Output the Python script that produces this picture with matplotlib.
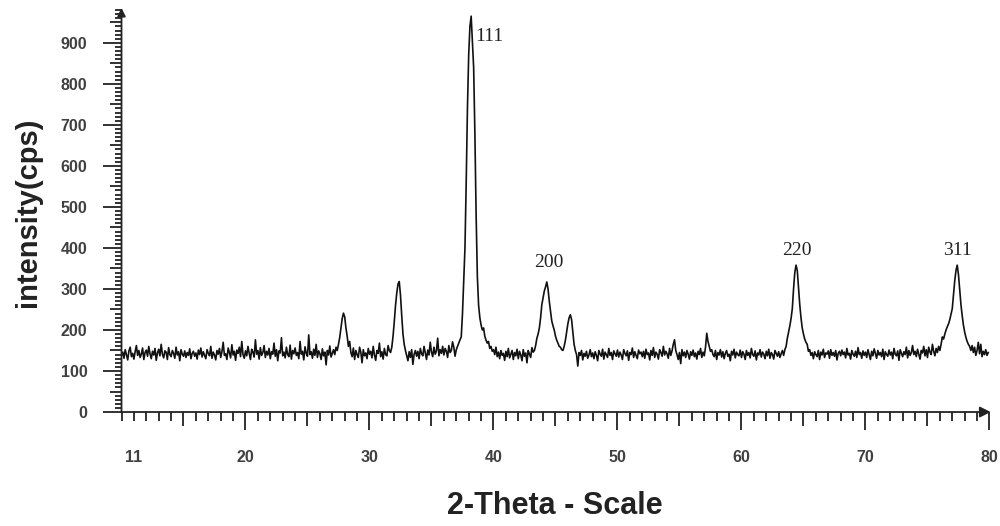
import numpy as np
import matplotlib
matplotlib.use('Agg')
import matplotlib.pyplot as plt
from matplotlib.ticker import FixedLocator, MultipleLocator

plt.rcParams['font.family'] = ['Liberation Sans', 'DejaVu Sans']

# scan: 2-theta from 10 deg in 0.1 deg steps, intensity
two_theta_start = 10.0
two_theta_step = 0.1
intensity = [
    138, 146, 131, 152, 140, 127, 149, 158, 135, 143, 129, 147, 162, 138, 150, 133, 141, 156, 128, 145,  # 10
    151, 136, 160, 142, 130, 148, 139, 155, 126, 144, 153, 137, 165, 141, 132, 149, 146, 128, 157, 140,  # 12
    135, 150, 143, 131, 158, 139, 147, 125, 152, 141, 136, 149, 133, 145, 138, 154, 130, 143, 148, 136,  # 14
    144, 129, 151, 140, 156, 134, 147, 138, 130, 152, 143, 137, 160, 131, 146, 139, 127, 150, 141, 155,  # 16
    133, 147, 170, 138, 142, 128, 156, 145, 132, 164, 139, 148, 126, 151, 143, 158, 135, 172, 140, 131,  # 18
    149, 137, 160, 143, 128, 153, 146, 134, 176, 141, 150, 129, 157, 138, 145, 162, 133, 148, 139, 155,  # 20
    130, 147, 141, 168, 136, 152, 125, 149, 144, 181, 137, 146, 132, 158, 140, 135, 163, 129, 150, 142,  # 22
    156, 138, 145, 130, 172, 141, 148, 127, 159, 143, 136, 188, 140, 147, 131, 153, 138, 165, 133, 149,  # 24
    142, 128, 154, 137, 146, 115, 150, 139, 161, 134, 143, 152, 140, 158, 150, 165, 182, 206, 228, 241,  # 26
    232, 205, 185, 160, 172, 145, 135, 156, 128, 150, 140, 133, 158, 146, 120, 152, 137, 144, 130, 155,  # 28
    141, 148, 132, 160, 139, 126, 150, 143, 168, 135, 147, 129, 155, 140, 137, 162, 150, 145, 158, 185,  # 30
    220, 260, 290, 312, 318, 285, 235, 190, 165, 150, 138, 125, 147, 133, 152, 116, 141, 150, 136, 148,  # 32
    130, 155, 142, 137, 160, 144, 128, 151, 139, 170, 146, 135, 158, 141, 149, 180, 137, 152, 143, 160,  # 34
    139, 155, 148, 133, 162, 145, 150, 171, 158, 136, 152, 160, 168, 176, 183, 240, 320, 400, 560, 740,  # 36
    870, 940, 965, 900, 840, 680, 480, 330, 260, 230, 212, 200, 205, 185, 175, 168, 172, 155, 160, 148,  # 38
    152, 140, 158, 135, 146, 130, 150, 138, 143, 126, 148, 135, 155, 132, 141, 150, 128, 145, 137, 153,  # 40
    130, 148, 139, 125, 152, 136, 144, 120, 150, 141, 133, 157, 146, 150, 162, 180, 190, 205, 230, 262,  # 42
    278, 295, 305, 317, 300, 270, 245, 222, 210, 200, 185, 175, 168, 160, 158, 152, 150, 160, 175, 195,  # 44
    215, 230, 237, 225, 195, 165, 150, 140, 112, 145, 138, 150, 127, 143, 136, 148, 131, 139, 152, 135,  # 46
    144, 130, 147, 138, 125, 150, 141, 136, 153, 129, 146, 140, 133, 155, 138, 145, 128, 149, 142, 136,  # 48
    151, 134, 146, 139, 128, 152, 143, 137, 149, 126, 145, 140, 156, 133, 147, 138, 130, 151, 142, 146,  # 50
    135, 148, 131, 153, 140, 144, 127, 150, 138, 157, 133, 146, 141, 129, 152, 145, 136, 160, 139, 148,  # 52
    142, 131, 155, 138, 149, 165, 176, 150, 140, 128, 145, 118, 152, 137, 146, 133, 150, 141, 129, 147,  # 54
    138, 151, 135, 144, 129, 148, 140, 155, 133, 146, 137, 158, 192, 172, 160, 148, 152, 140, 135, 150,  # 56
    128, 145, 139, 152, 134, 147, 130, 143, 150, 136, 141, 125, 148, 139, 153, 132, 146, 140, 137, 151,  # 58
    133, 147, 141, 128, 150, 138, 145, 132, 155, 140, 136, 149, 127, 144, 139, 152, 134, 146, 141, 130,  # 60
    148, 137, 153, 131, 145, 140, 129, 150, 143, 136, 147, 133, 142, 150, 138, 152, 160, 180, 195, 210,  # 62
    228, 252, 300, 340, 358, 345, 305, 262, 230, 205, 190, 178, 170, 165, 148, 152, 138, 145, 130, 147,  # 64
    140, 135, 150, 128, 146, 139, 153, 133, 144, 141, 149, 131, 152, 138, 145, 136, 150, 127, 143, 148,  # 66
    137, 151, 140, 146, 132, 155, 139, 143, 129, 150, 141, 136, 148, 133, 157, 140, 145, 131, 149, 138,  # 68
    146, 133, 152, 140, 128, 148, 137, 154, 142, 131, 150, 139, 145, 135, 153, 128, 147, 140, 136, 151,  # 70
    139, 146, 130, 155, 141, 137, 149, 126, 152, 143, 135, 147, 140, 158, 132, 150, 138, 145, 162, 140,  # 72
    148, 135, 153, 141, 129, 150, 144, 160, 137, 152, 133, 158, 146, 140, 165, 148, 137, 155, 145, 160,  # 74
    150, 165, 183, 178, 190, 200, 208, 215, 225, 238, 252, 285, 320, 345, 358, 335, 300, 262, 235, 212,  # 76
    195, 182, 172, 165, 160, 150, 162, 145, 158, 138, 150, 170, 142, 165, 135, 148, 140, 152, 138, 145,  # 78
]
two_theta = two_theta_start + two_theta_step * np.arange(len(intensity))

peak_labels = ['111', '200', '220', '311']
peak_label_x = [38.5, 44.48, 64.44, 77.40]
peak_label_y = [916, 365, 393, 393]

x_major = [11, 15, 20, 25, 30, 35, 40, 45, 50, 55, 60, 65, 70, 75, 80]
x_labels = ['11', '', '20', '', '30', '', '40', '', '50', '', '60', '', '70', '', '80']
y_major = list(range(0, 1000, 50))
y_labels = [str(v) if v % 100 == 0 else '' for v in y_major]

fig = plt.figure(figsize=(10, 5.26), dpi=100)
ax = fig.add_axes([0.1215, 0.2167, 0.8785, 0.7643])
ax.plot(two_theta, intensity, color='#111111', lw=1.2)
ax.set_xlim(10, 80.85)
ax.set_ylim(0, 980)
for s in ax.spines.values():
    s.set_visible(False)

# axis lines with arrow heads
ax.annotate('', xy=(80.1, 0), xytext=(10, 0), annotation_clip=False,
            arrowprops=dict(arrowstyle='-|>', color='#222222', lw=1.3, mutation_scale=16,
                            shrinkA=0, shrinkB=0))
ax.annotate('', xy=(10, 985), xytext=(10, 0), annotation_clip=False,
            arrowprops=dict(arrowstyle='-|>', color='#222222', lw=1.3, mutation_scale=12,
                            shrinkA=0, shrinkB=0))

ax.xaxis.set_major_locator(FixedLocator(x_major))
ax.set_xticklabels(x_labels)
ax.xaxis.set_minor_locator(MultipleLocator(1))
ax.yaxis.set_major_locator(FixedLocator(y_major))
ax.set_yticklabels(y_labels)
ax.yaxis.set_minor_locator(MultipleLocator(10))

ax.tick_params(axis='x', which='major', direction='out', length=13, width=1.3, pad=14,
               labelsize=11.5, labelcolor='#404040', color='#222222')
ax.tick_params(axis='x', which='minor', direction='out', length=6.5, width=1.3, color='#222222')
ax.tick_params(axis='y', which='major', direction='out', length=13.5, width=1.3, pad=11,
               labelsize=11.5, labelcolor='#404040', color='#222222')
ax.tick_params(axis='y', which='minor', direction='out', length=5, width=1.3, color='#222222')
for t in ax.get_xticklabels() + ax.get_yticklabels():
    t.set_fontweight('bold')

for t, v in zip(ax.xaxis.get_major_ticks(), x_major):
    if v % 10:
        t.tick1line.set_markersize(10 if v % 5 == 0 else 6.5)
for t, v in zip(ax.yaxis.get_major_ticks(), y_major):
    if v % 100:
        t.tick1line.set_markersize(8.5)

for lab, lx, ly in zip(peak_labels, peak_label_x, peak_label_y):
    ha = 'left' if lab == '111' else 'center'
    ax.text(lx, ly, lab, ha=ha, va='center', fontsize=14, color='#222222',
            family=['Liberation Serif', 'DejaVu Serif'])

ax.set_xlabel('2-Theta - Scale', fontsize=22, fontweight='bold', color='#222222', va='center')
ax.xaxis.set_label_coords(0.4935, -0.234)
ax.set_ylabel('intensity(cps)', fontsize=21, fontweight='bold', color='#222222', va='center')
ax.yaxis.set_label_coords(-0.1064, 0.4975)

plt.savefig('out.png', dpi=100)
